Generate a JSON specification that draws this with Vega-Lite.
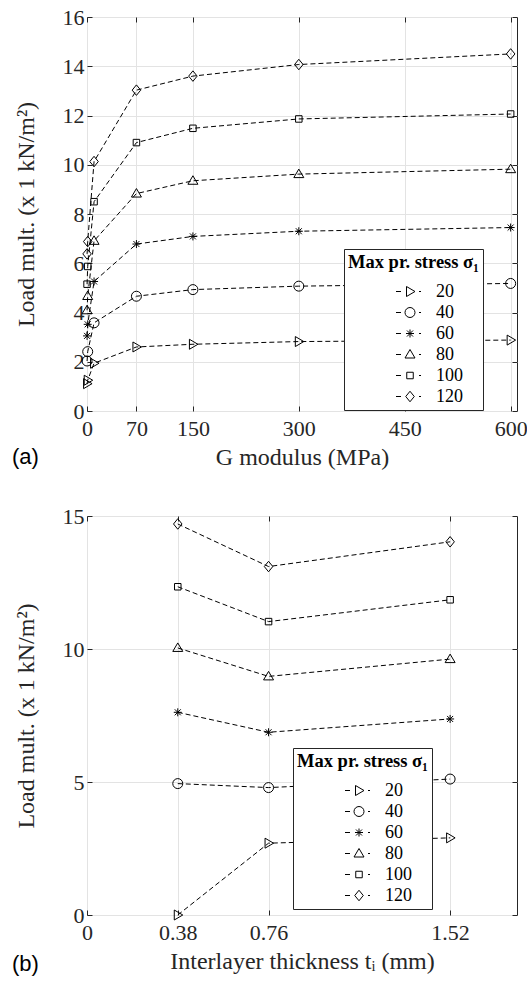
{
  "$schema": "https://vega.github.io/schema/vega-lite/v6.json",
  "padding": {"left": 11, "top": 5, "right": 0, "bottom": 5},
  "background": "white",
  "datasets": {
    "a": [
      {"stress": 20, "G": 0.1, "load": 1.11}, {"stress": 20, "G": 1, "load": 1.25}, {"stress": 20, "G": 10, "load": 1.94}, {"stress": 20, "G": 70, "load": 2.6}, {"stress": 20, "G": 150, "load": 2.71}, {"stress": 20, "G": 300, "load": 2.82}, {"stress": 20, "G": 600, "load": 2.88},
      {"stress": 40, "G": 0.1, "load": 2.03}, {"stress": 40, "G": 1, "load": 2.41}, {"stress": 40, "G": 10, "load": 3.58}, {"stress": 40, "G": 70, "load": 4.66}, {"stress": 40, "G": 150, "load": 4.93}, {"stress": 40, "G": 300, "load": 5.07}, {"stress": 40, "G": 600, "load": 5.18},
      {"stress": 60, "G": 0.1, "load": 3.05}, {"stress": 60, "G": 1, "load": 3.52}, {"stress": 60, "G": 10, "load": 5.26}, {"stress": 60, "G": 70, "load": 6.78}, {"stress": 60, "G": 150, "load": 7.09}, {"stress": 60, "G": 300, "load": 7.3}, {"stress": 60, "G": 600, "load": 7.45},
      {"stress": 80, "G": 0.1, "load": 4.09}, {"stress": 80, "G": 1, "load": 4.67}, {"stress": 80, "G": 10, "load": 6.91}, {"stress": 80, "G": 70, "load": 8.83}, {"stress": 80, "G": 150, "load": 9.35}, {"stress": 80, "G": 300, "load": 9.62}, {"stress": 80, "G": 600, "load": 9.82},
      {"stress": 100, "G": 0.1, "load": 5.15}, {"stress": 100, "G": 1, "load": 5.87}, {"stress": 100, "G": 10, "load": 8.5}, {"stress": 100, "G": 70, "load": 10.9}, {"stress": 100, "G": 150, "load": 11.48}, {"stress": 100, "G": 300, "load": 11.86}, {"stress": 100, "G": 600, "load": 12.06},
      {"stress": 120, "G": 0.1, "load": 6.38}, {"stress": 120, "G": 1, "load": 6.88}, {"stress": 120, "G": 10, "load": 10.13}, {"stress": 120, "G": 70, "load": 13.03}, {"stress": 120, "G": 150, "load": 13.6}, {"stress": 120, "G": 300, "load": 14.07}, {"stress": 120, "G": 600, "load": 14.5}
    ],
    "b": [
      {"stress": 20, "t": 0.38, "load": 0}, {"stress": 20, "t": 0.76, "load": 2.7}, {"stress": 20, "t": 1.52, "load": 2.9},
      {"stress": 40, "t": 0.38, "load": 4.94}, {"stress": 40, "t": 0.76, "load": 4.79}, {"stress": 40, "t": 1.52, "load": 5.11},
      {"stress": 60, "t": 0.38, "load": 7.62}, {"stress": 60, "t": 0.76, "load": 6.87}, {"stress": 60, "t": 1.52, "load": 7.37},
      {"stress": 80, "t": 0.38, "load": 10.04}, {"stress": 80, "t": 0.76, "load": 8.97}, {"stress": 80, "t": 1.52, "load": 9.62},
      {"stress": 100, "t": 0.38, "load": 12.34}, {"stress": 100, "t": 0.76, "load": 11.03}, {"stress": 100, "t": 1.52, "load": 11.85},
      {"stress": 120, "t": 0.38, "load": 14.7}, {"stress": 120, "t": 0.76, "load": 13.1}, {"stress": 120, "t": 1.52, "load": 14.03}
    ]
  },
  "spacing": 34,
  "resolve": {"scale": {"shape": "independent"}, "legend": {"shape": "independent"}},
  "vconcat": [
    {
      "width": 430,
      "height": 394,
      "data": {"name": "a"},
      "title": {"text": "(a)", "orient": "bottom", "anchor": "start", "frame": "bounds", "font": "Liberation Sans", "fontSize": 22, "fontWeight": "normal", "color": "black", "offset": -22, "dx": -2},
      "resolve": {"axis": {"x": "independent", "y": "independent"}, "scale": {"shape": "independent"}, "legend": {"shape": "independent"}},
      "layer": [
        {
          "mark": {"type": "line", "color": "black", "strokeWidth": 1, "strokeDash": [5, 3]},
          "encoding": {
            "x": {"field": "G", "type": "quantitative", "scale": {"domain": [0, 609], "nice": false},
                  "axis": {"values": [0, 70, 150, 300, 450, 600], "format": "d", "title": "G modulus (MPa)", "grid": true, "labelFont": "Liberation Serif", "titleFont": "Liberation Serif"}},
            "y": {"field": "load", "type": "quantitative", "scale": {"domain": [0, 16], "nice": false},
                  "axis": {"values": [0, 2, 4, 6, 8, 10, 12, 14, 16], "format": "d", "title": "Load mult. (x 1 kN/m²)", "grid": true, "labelFont": "Liberation Serif", "titleFont": "Liberation Serif"}},
            "detail": {"field": "stress", "type": "ordinal"}
          }
        },
        {
          "mark": {"type": "point", "filled": false, "color": "black", "strokeWidth": 1, "size": 100, "opacity": 1},
          "encoding": {
            "x": {"field": "G", "type": "quantitative", "axis": {"orient": "top", "values": [0, 70, 150, 300, 450, 600], "labels": false, "title": null, "grid": false}},
            "y": {"field": "load", "type": "quantitative", "axis": {"orient": "right", "values": [0, 2, 4, 6, 8, 10, 12, 14, 16], "labels": false, "title": null, "grid": false}},
            "shape": {
              "field": "stress", "type": "ordinal", "legend": null,
              "scale": {"domain": [20, 40, 60, 80, 100, 120], "range": ["M-0.7,-1L1,0L-0.7,1Z", "M1,0A1,1 0 1,1 -1,0A1,1 0 1,1 1,0Z", "M-0.8,0L0.8,0M0,-0.8L0,0.8M-0.6,-0.6L0.6,0.6M-0.6,0.6L0.6,-0.6", "M-1,0.7L0,-1L1,0.7Z", "M-0.65,-0.65L0.65,-0.65L0.65,0.65L-0.65,0.65Z", "M0,-1.05L0.85,0L0,1.05L-0.85,0Z"]}
            }
          }
        },
        {
          "transform": [{"filter": "datum.load < 0"}],
          "mark": {"type": "point", "filled": false, "color": "black", "strokeWidth": 1, "size": 100, "opacity": 1},
          "encoding": {
            "x": {"field": "G", "type": "quantitative", "axis": null},
            "y": {"field": "load", "type": "quantitative", "axis": null},
            "shape": {
              "field": "stress", "type": "ordinal",
              "scale": {"domain": [20, 40, 60, 80, 100, 120], "range": ["M7.8,0L8.8,0M12.4,0L12.8,0M9.9,-1L11.6,0L9.9,1Z", "M7.8,0L8.8,0M12.4,0L12.8,0M11.6,0A1,1 0 1,1 9.6,0A1,1 0 1,1 11.6,0Z", "M7.8,0L8.8,0M12.4,0L12.8,0M9.8,0L11.4,0M10.6,-0.8L10.6,0.8M10,-0.6L11.2,0.6M10,0.6L11.2,-0.6", "M7.8,0L8.8,0M12.4,0L12.8,0M9.6,0.7L10.6,-1L11.6,0.7Z", "M7.8,0L8.8,0M12.4,0L12.8,0M9.95,-0.65L11.25,-0.65L11.25,0.65L9.95,0.65Z", "M7.8,0L8.8,0M12.4,0L12.8,0M10.6,-1.05L11.45,0L10.6,1.05L9.75,0Z"]},
              "legend": {"title": "Max pr. stress σ₁", "orient": "none", "legendX": 257, "legendY": 232}
            }
          }
        }
      ]
    },
    {
      "width": 430,
      "height": 399,
      "data": {"name": "b"},
      "title": {"text": "(b)", "orient": "bottom", "anchor": "start", "frame": "bounds", "font": "Liberation Sans", "fontSize": 22, "fontWeight": "normal", "color": "black", "offset": -19, "dx": -2},
      "resolve": {"axis": {"x": "independent", "y": "independent"}, "scale": {"shape": "independent"}, "legend": {"shape": "independent"}},
      "layer": [
        {
          "mark": {"type": "line", "color": "black", "strokeWidth": 1, "strokeDash": [5, 3]},
          "encoding": {
            "x": {"field": "t", "type": "quantitative", "scale": {"domain": [0, 1.8], "nice": false},
                  "axis": {"values": [0, 0.38, 0.76, 1.52], "format": ".3~g", "title": "Interlayer thickness tᵢ (mm)", "grid": true, "labelFont": "Liberation Serif", "titleFont": "Liberation Serif"}},
            "y": {"field": "load", "type": "quantitative", "scale": {"domain": [0, 15], "nice": false},
                  "axis": {"values": [0, 5, 10, 15], "format": "d", "title": "Load mult. (x 1 kN/m²)", "grid": true, "labelFont": "Liberation Serif", "titleFont": "Liberation Serif"}},
            "detail": {"field": "stress", "type": "ordinal"}
          }
        },
        {
          "mark": {"type": "point", "filled": false, "color": "black", "strokeWidth": 1, "size": 100, "opacity": 1},
          "encoding": {
            "x": {"field": "t", "type": "quantitative", "axis": {"orient": "top", "values": [0, 0.38, 0.76, 1.52], "labels": false, "title": null, "grid": false}},
            "y": {"field": "load", "type": "quantitative", "axis": {"orient": "right", "values": [0, 5, 10, 15], "labels": false, "title": null, "grid": false}},
            "shape": {
              "field": "stress", "type": "ordinal", "legend": null,
              "scale": {"domain": [20, 40, 60, 80, 100, 120], "range": ["M-0.7,-1L1,0L-0.7,1Z", "M1,0A1,1 0 1,1 -1,0A1,1 0 1,1 1,0Z", "M-0.8,0L0.8,0M0,-0.8L0,0.8M-0.6,-0.6L0.6,0.6M-0.6,0.6L0.6,-0.6", "M-1,0.7L0,-1L1,0.7Z", "M-0.65,-0.65L0.65,-0.65L0.65,0.65L-0.65,0.65Z", "M0,-1.05L0.85,0L0,1.05L-0.85,0Z"]}
            }
          }
        },
        {
          "transform": [{"filter": "datum.load < 0"}],
          "mark": {"type": "point", "filled": false, "color": "black", "strokeWidth": 1, "size": 100, "opacity": 1},
          "encoding": {
            "x": {"field": "t", "type": "quantitative", "axis": null},
            "y": {"field": "load", "type": "quantitative", "axis": null},
            "shape": {
              "field": "stress", "type": "ordinal",
              "scale": {"domain": [20, 40, 60, 80, 100, 120], "range": ["M7.8,0L8.8,0M12.4,0L12.8,0M9.9,-1L11.6,0L9.9,1Z", "M7.8,0L8.8,0M12.4,0L12.8,0M11.6,0A1,1 0 1,1 9.6,0A1,1 0 1,1 11.6,0Z", "M7.8,0L8.8,0M12.4,0L12.8,0M9.8,0L11.4,0M10.6,-0.8L10.6,0.8M10,-0.6L11.2,0.6M10,0.6L11.2,-0.6", "M7.8,0L8.8,0M12.4,0L12.8,0M9.6,0.7L10.6,-1L11.6,0.7Z", "M7.8,0L8.8,0M12.4,0L12.8,0M9.95,-0.65L11.25,-0.65L11.25,0.65L9.95,0.65Z", "M7.8,0L8.8,0M12.4,0L12.8,0M10.6,-1.05L11.45,0L10.6,1.05L9.75,0Z"]},
              "legend": {"title": "Max pr. stress σ₁", "orient": "none", "legendX": 206, "legendY": 232}
            }
          }
        }
      ]
    }
  ],
  "config": {
    "font": "Liberation Serif",
    "view": {"stroke": "#262626", "strokeWidth": 1},
    "axis": {
      "domain": false,
      "labelFont": "Liberation Serif", "labelFontSize": 22, "labelColor": "#262626",
      "titleFont": "Liberation Serif", "titleFontSize": 24, "titleFontWeight": "normal", "titleColor": "#262626",
      "tickColor": "#262626", "tickSize": -5, "tickWidth": 1,
      "gridColor": "#e3e3e3", "gridWidth": 1,
      "labelFlush": false, "labelOverlap": false
    },
    "axisX": {"labelPadding": 12, "titlePadding": 6},
    "axisY": {"labelPadding": 8, "titlePadding": 24},
    "legend": {
      "titleFont": "Liberation Serif", "titleFontSize": 18.5, "titleFontWeight": "bold", "titleColor": "black",
      "labelFont": "Liberation Serif", "labelFontSize": 18, "labelColor": "black",
      "strokeColor": "#262626", "fillColor": "white", "padding": 4, "titlePadding": 11, "rowPadding": 3,
      "symbolSize": 100, "labelOffset": 70, "symbolStrokeWidth": 1, "symbolStrokeColor": "black", "symbolFillColor": "transparent"
    }
  }
}
